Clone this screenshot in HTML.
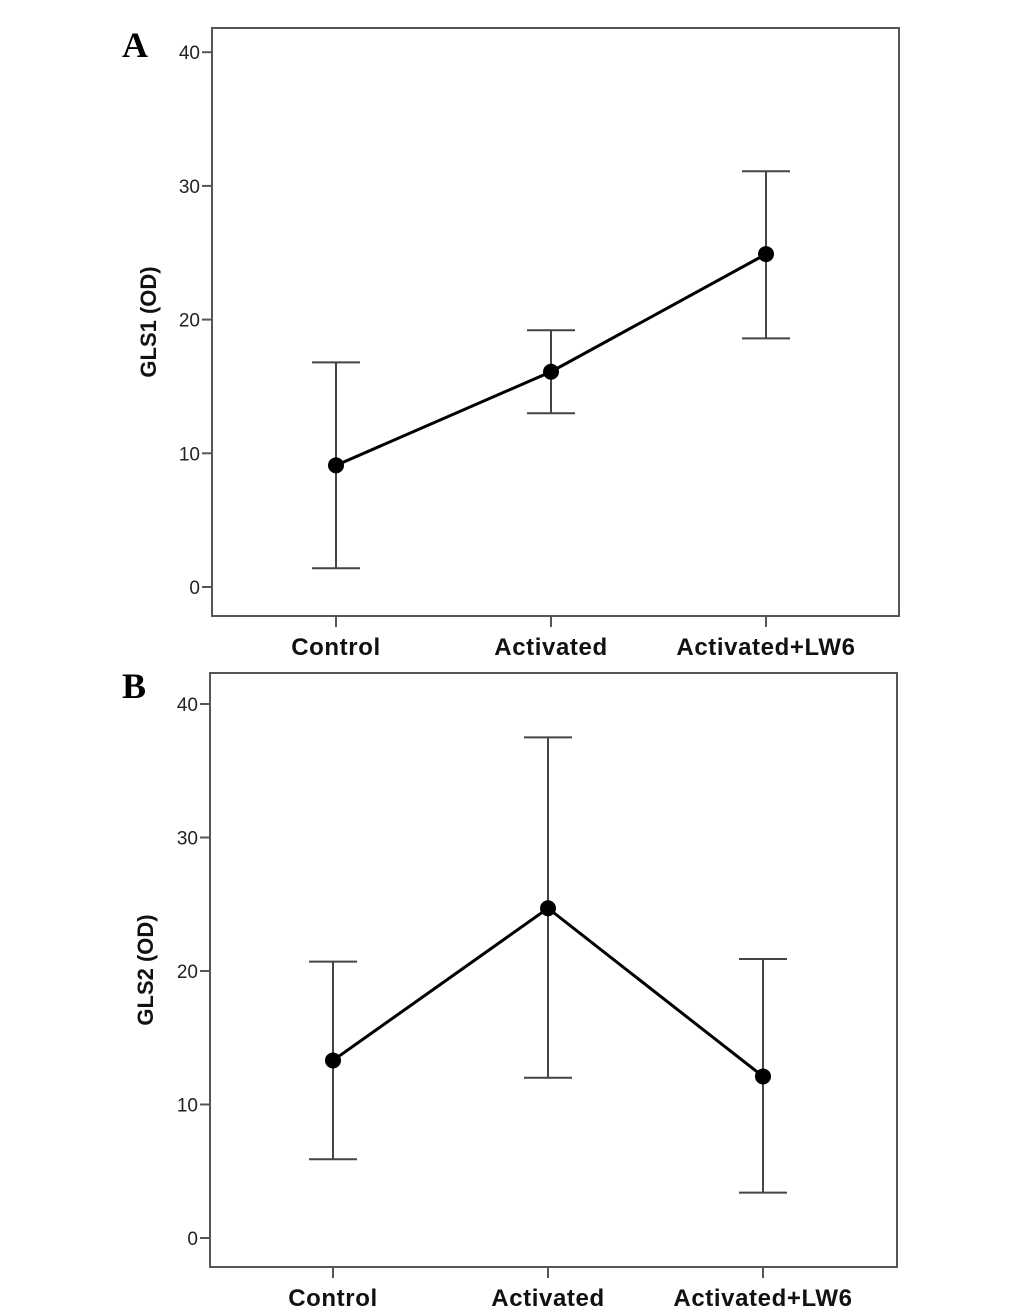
<!DOCTYPE html>
<html><head><meta charset="utf-8"><style>
body{margin:0;background:#fff}
svg{display:block}
text{font-family:"Liberation Sans",Arial,sans-serif}
</style></head><body>
<svg id="s" width="1033" height="1315"></svg>
<script>
const categories=["Control","Activated","Activated+LW6"];
const gls1Mean=[9.1,16.1,24.9];
const gls1Upper=[16.8,19.2,31.1];
const gls1Lower=[1.4,13.0,18.6];
const gls2Mean=[13.3,24.7,12.1];
const gls2Upper=[20.7,37.5,20.9];
const gls2Lower=[5.9,12.0,3.4];
const yTicks=[0,10,20,30,40];
const NS="http://www.w3.org/2000/svg";
const svg=document.getElementById('s');
function mk(tag,attrs,parent){const e=document.createElementNS(NS,tag);for(const k in attrs)e.setAttribute(k,attrs[k]);(parent||svg).appendChild(e);return e;}
function panel(p){
  const g=mk('g',{});
  
  
  const y=v=>p.y0-(v)*p.ppu;
  const x=i=>p.xs[i];
  const lt=mk('text',{x:p.letterX,y:p.letterY,'font-size':36,'font-weight':'bold',style:'font-family:"Liberation Serif",serif'},g);lt.textContent=p.letter;
  
  const box=mk('rect',{x:p.l,y:p.t,width:p.r-p.l,height:p.b-p.t,fill:'none',stroke:'#555','stroke-width':2},g);
  
  yTicks.forEach(v=>{
    mk('line',{x1:p.l-10,x2:p.l,y1:y(v),y2:y(v),stroke:'#555','stroke-width':2},g);
    const t=mk('text',{x:p.l-12,y:y(v)+7,'font-size':19,'text-anchor':'end',fill:'#222'},g);t.textContent=v;
    
  });
  categories.forEach((c,i)=>{
    mk('line',{x1:x(i),x2:x(i),y1:p.b,y2:p.b+11,stroke:'#555','stroke-width':2},g);
    const t=mk('text',{x:x(i),y:p.b+39,'font-size':24,'font-weight':'bold','text-anchor':'middle',fill:'#111','letter-spacing':0.6},g);t.textContent=c;
    
  });
  const yt=mk('text',{x:0,y:0,'font-size':22,'font-weight':'bold','text-anchor':'middle',fill:'#111',transform:`translate(${p.titleX},${(p.t+p.b)/2}) rotate(-90)`},g);
  yt.textContent=p.title;
  categories.forEach((c,i)=>{
    const e=mk('g',{stroke:'#444','stroke-width':2},g);
    
    mk('line',{x1:x(i),x2:x(i),y1:y(p.up[i]),y2:y(p.lo[i])},e);
    mk('line',{x1:x(i)-24,x2:x(i)+24,y1:y(p.up[i]),y2:y(p.up[i])},e);
    mk('line',{x1:x(i)-24,x2:x(i)+24,y1:y(p.lo[i]),y2:y(p.lo[i])},e);
  });
  const pl=mk('polyline',{points:p.mean.map((v,i)=>x(i)+','+y(v)).join(' '),fill:'none',stroke:'#000','stroke-width':3},g);
  
  p.mean.forEach((v,i)=>{
    const c=mk('circle',{cx:x(i),cy:y(v),r:8,fill:'#000'},g);
    
  });
}
panel({letter:'A',letterX:122,letterY:57,l:212,t:28,r:899,b:616,y0:587,ppu:13.37,xs:[336,551,766],title:'GLS1 (OD)',titleX:156,mean:gls1Mean,up:gls1Upper,lo:gls1Lower});
panel({letter:'B',letterX:122,letterY:698,l:210,t:673,r:897,b:1267,y0:1238,ppu:13.35,xs:[333,548,763],title:'GLS2 (OD)',titleX:153,mean:gls2Mean,up:gls2Upper,lo:gls2Lower});
</script>
</body></html>
